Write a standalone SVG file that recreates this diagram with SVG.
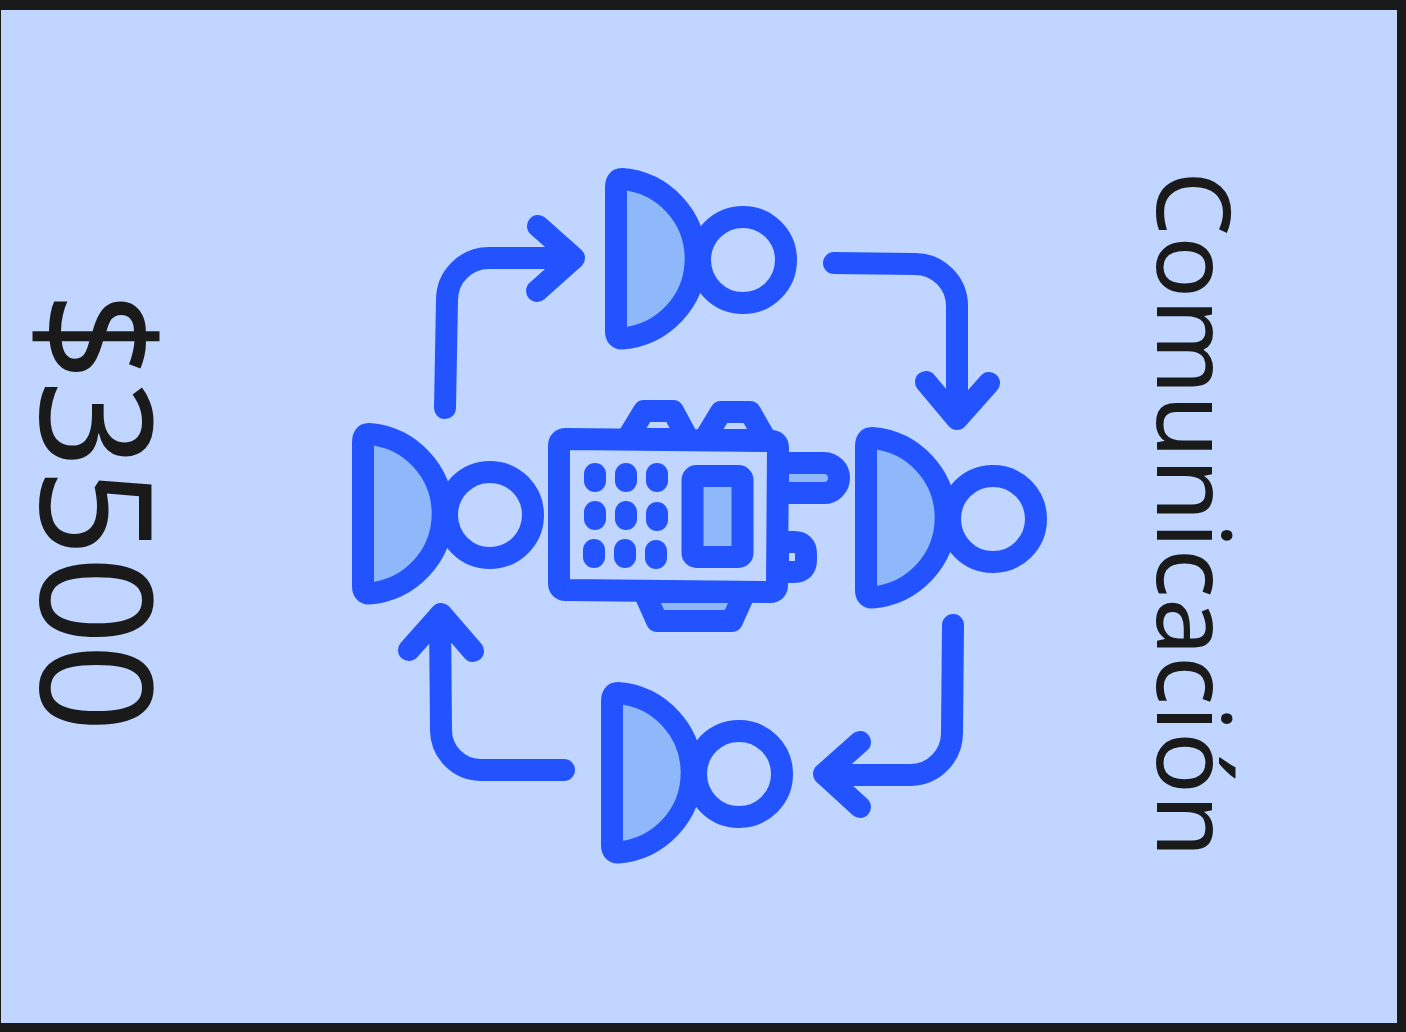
<svg xmlns="http://www.w3.org/2000/svg" width="1406" height="1032" viewBox="0 0 1406 1032">
<style>
.s{stroke:#2253ff;stroke-width:22;stroke-linecap:round;stroke-linejoin:round}
.n{fill:none}.l{fill:#8fb8fb}.b{fill:#c0d5ff}.k{fill:#2253ff}
.t{font-family:"Noto Sans",sans-serif;fill:#1a1a1a}
</style>
<defs>
<g id="person">
<path class="s l" d="M616 187Q616 179 622 179A80 80 0 0 1 622 338.500Q616 338.500 616 331Z"/>
<circle class="s b" cx="743" cy="260" r="43"/>
</g>
</defs>
<rect width="1406" height="1032" fill="#1a1a1a"/>
<rect x="1" y="10" width="1396" height="1013" fill="#c0d5ff"/>
<g id="connectors">
<path class="s n" d="M445 408L447 300A42 42 0 0 1 489 258L572 258M538 226L574 258L537 291"/>
<path class="s n" d="M834 263L915 264A42 42 0 0 1 957 306L957 418M926 382L957 419L989 383"/>
<path class="s n" d="M953 625L952 733A42 42 0 0 1 911 775L825 775M860 742L824 774L860 807"/>
<path class="s n" d="M564 770L480 770A40 40 0 0 1 441 730L440 615M409 650L441 614L473 651"/>
</g>
<use id="person-top" href="#person"/>
<use id="person-left" href="#person" x="-253" y="255"/>
<use id="person-right" href="#person" x="250" y="259"/>
<use id="person-bottom" href="#person" x="-4" y="514"/>
<g id="device">
<path class="s b" d="M627 439L644 411L673 411L688 439Z"/>
<path class="s b" d="M704 440L721 412L750 412L766 440Z"/>
<path class="s l" d="M644 592L657 621L732 621L745 592Z"/>
<path class="s l" d="M778 463H824A15 15 0 0 1 824 493H778Z"/>
<path class="s b" d="M778 542H794Q806 542 806 554V560Q806 572 794 572H778Z"/>
<path class="s b" d="M566 439L771 441Q778 441 778 448L777 585Q777 592 770 592L566 590Q559 590 559 583L559 446Q559 439 566 439Z"/>
<g class="k">
<rect x="584" y="463" width="22" height="29" rx="11"/><rect x="615" y="463" width="22" height="29" rx="11"/><rect x="646" y="463" width="22" height="29" rx="11"/>
<rect x="584" y="501" width="22" height="29" rx="11"/><rect x="615" y="501" width="22" height="29" rx="11"/><rect x="646" y="502" width="22" height="29" rx="11"/>
<rect x="583" y="539" width="22" height="29" rx="11"/><rect x="614" y="539" width="22" height="29" rx="11"/><rect x="645" y="540" width="22" height="29" rx="11"/>
</g>
<rect class="s l" x="692.500" y="476" width="50" height="81" rx="4"/>
</g>
<g id="labels">
<text class="t" transform="translate(41 292) rotate(90)" font-size="155" letter-spacing="-0.700">$3500</text>
<text class="t" transform="translate(1157 171) rotate(90)" font-size="103">Comunicación</text>
</g>
</svg>
